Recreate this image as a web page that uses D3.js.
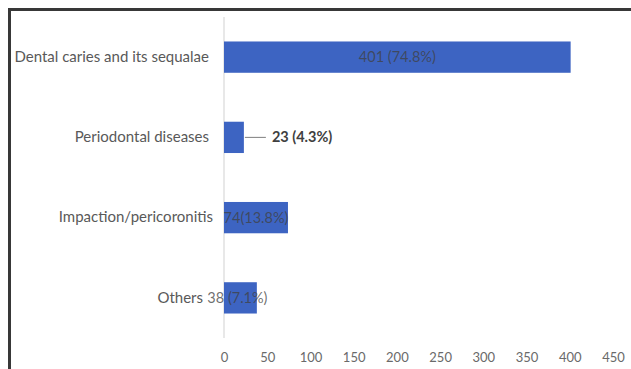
<!DOCTYPE html>
<html>
<head>
<meta charset="utf-8">
<script src="https://cdn.jsdelivr.net/npm/d3@7"></script>
<style>
  html, body { margin: 0; padding: 0; background: #fff; }
  svg { display: block; }
  text { font-family: Lato, "Open Sans", sans-serif; }
</style>
</head>
<body>
<svg id="chart" width="631" height="369"></svg>
<script>
// Causes of dental visits: counts and share of total
const categories = ["Dental caries and its sequalae", "Periodontal diseases", "Impaction/pericoronitis", "Others"];
const counts = [401, 23, 74, 38];
const valueLabels = ["401 (74.8%)", "23 (4.3%)", "74(13.8%)", "38 (7.1%)"];
const xTicks = [0, 50, 100, 150, 200, 250, 300, 350, 400, 450];

const svg = d3.select("#chart");
const W = 631, H = 369;

// frame (open on the right and bottom)
svg.append("rect").attr("x", 0).attr("y", 0).attr("width", W).attr("height", H).attr("fill", "#fff");
svg.append("path")
  .attr("d", `M9.5,${H + 5} V9.5 H${W + 5}`)
  .attr("fill", "none").attr("stroke", "#383838").attr("stroke-width", 3);

const x = d3.scaleLinear().domain([0, 450]).range([224, 613]);
const y = d3.scaleBand().domain(categories).range([17, 338]).paddingInner(0.61).paddingOuter(0.305);

// vertical category axis line
svg.append("line")
  .attr("x1", x(0)).attr("x2", x(0))
  .attr("y1", 17).attr("y2", 338)
  .attr("stroke", "#d9d9d9").attr("stroke-width", 1.2);

// bars
svg.selectAll("rect.bar").data(counts).join("rect")
  .attr("class", "bar")
  .attr("x", x(0))
  .attr("y", (d, i) => y(categories[i]))
  .attr("width", d => x(d) - x(0))
  .attr("height", y.bandwidth())
  .attr("fill", "#3d64c2");

// category labels
const yAxis = d3.axisLeft(y).tickSize(0).tickPadding(0);
const gy = svg.append("g").attr("transform", `translate(${x(0) - 15},0)`).call(yAxis);
gy.select(".domain").remove();
gy.selectAll("text")
  .style("font-family", "Lato, 'Open Sans', sans-serif")
  .attr("font-size", 15).attr("fill", "#595959");
gy.selectAll(".tick").filter(d => d === "Impaction/pericoronitis").select("text").attr("x", 4);
gy.selectAll(".tick").filter(d => d === "Others").select("text").attr("x", -6);

// x axis tick labels
const xAxis = d3.axisBottom(x).tickValues(xTicks).tickSize(0).tickPadding(0);
const gx = svg.append("g").attr("transform", "translate(0,353)").call(xAxis);
gx.select(".domain").remove();
gx.selectAll("text")
  .style("font-family", "Lato, 'Open Sans', sans-serif")
  .attr("font-size", 13).attr("fill", "#6a6a6a");

// value labels, centred on bars except the short one with a leader line
counts.forEach((v, i) => {
  const cy = y(categories[i]) + y.bandwidth() / 2;
  if (i === 1) {
    svg.append("line")
      .attr("x1", x(v) + 1).attr("x2", x(v) + 22)
      .attr("y1", cy).attr("y2", cy)
      .attr("stroke", "#7f7f7f").attr("stroke-width", 1);
    svg.append("text")
      .attr("x", x(v) + 28).attr("y", cy)
      .attr("dy", "0.35em")
      .attr("font-size", 14.5).attr("font-weight", "bold")
      .attr("fill", "#404040")
      .text(valueLabels[i]);
  } else {
    svg.append("text")
      .attr("x", (x(0) + x(v)) / 2 + (i === 3 ? -3 : 0)).attr("y", cy)
      .attr("dy", "0.35em")
      .attr("text-anchor", "middle")
      .attr("font-size", 14.5)
      .attr("fill", "#404040").attr("fill-opacity", 0.75)
      .text(valueLabels[i]);
  }
});
</script>
</body>
</html>
